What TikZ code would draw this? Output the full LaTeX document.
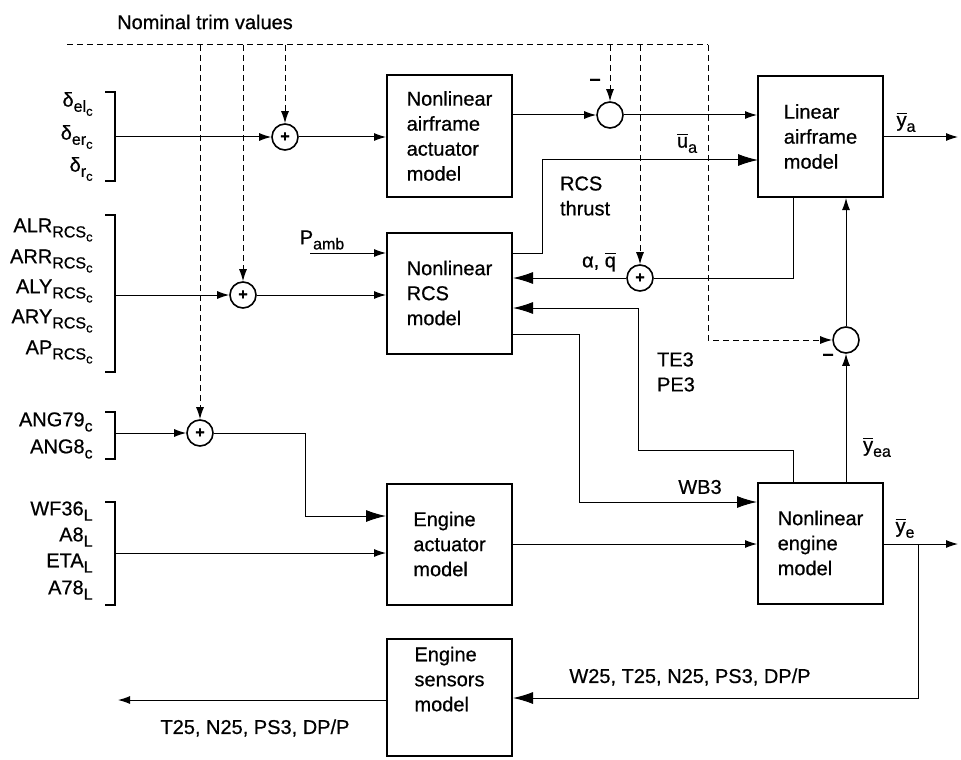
\documentclass[tikz,border=0pt]{standalone}
\usepackage{fontspec}
\setmainfont[FakeBold=0.6]{Liberation Sans}
\usetikzlibrary{arrows.meta,calc}
\newcommand{\vbar}[1]{$\overline{\mbox{#1}}$}
\newcommand{\lowsub}[1]{\raisebox{-2.6pt}{\fontsize{8}{8}\selectfont #1}}
\newcommand{\lowsubb}[1]{\raisebox{-2pt}{\fontsize{6.5}{6.5}\selectfont #1}}

\begin{document}
\begin{tikzpicture}[
  x=0.5pt, y=-0.5pt,
  font=\fontsize{10}{12.5}\selectfont,
  block/.style={draw, line width=1pt, align=left, minimum width=62.5pt, minimum height=60.5pt, inner sep=0pt},
  sumnode/.style={draw, circle, line width=0.8pt, minimum size=13pt, inner sep=0pt, font=\fontsize{8}{8}\selectfont\bfseries},
  sig/.style={-{Latex[length=6pt,width=4pt]}, line width=0.5pt},
  bigsig/.style={-{Latex[length=10pt,width=6pt]}, line width=0.5pt},
  plain/.style={line width=0.5pt},
  trimline/.style={densely dashed, line width=0.5pt},
  bracket/.style={line width=0.8pt},
  lbl/.style={anchor=east, inner sep=0pt}
]
\useasboundingbox (0,0) rectangle (961,759);

% blocks
\node[block] (act) at (449.5,136) {Nonlinear\\airframe\\actuator\\model};
\node[block] (lin) at (820.5,136.5) {Linear\\airframe\\model};
\node[block] (rcs) at (449.5,293) {Nonlinear\\RCS\\model};
\node[block] (eact) at (449.5,544) {Engine\\actuator\\model};
\node[block] (eng) at (820.5,543) {Nonlinear\\engine\\model};
\node[block, minimum height=58.5pt] (sens) at (449.5,697.5) {Engine\\sensors\\model\\[6pt]\mbox{}};

% summing junctions
\node[sumnode] (s1) at (285,137) {+};
\node[sumnode] (s2) at (243,295) {+};
\node[sumnode] (s3) at (200,433) {+};
\node[sumnode] (s4) at (640,278) {+};
\node[sumnode] (d1) at (610,115) {};
\node[sumnode] (d2) at (846,340) {};

% input brackets
\draw[bracket] (105,92) -- (115,92) -- (115,181) -- (105,181);
\draw[bracket] (105,215) -- (115,215) -- (115,372) -- (105,372);
\draw[bracket] (105,412) -- (115,412) -- (115,459) -- (105,459);
\draw[bracket] (105,502) -- (115,502) -- (115,605) -- (105,605);

\node[lbl] (del) at (93,104) {δ\lowsub{el\lowsubb{c}}};
\node[lbl] (der) at (93,137) {δ\lowsub{er\lowsubb{c}}};
\node[lbl] (dr) at (93,169) {δ\lowsub{r\lowsubb{c}}};
\node[lbl] (alr) at (93,230) {ALR\lowsub{RCS\lowsubb{c}}};
\node[lbl] (arr) at (93,261) {ARR\lowsub{RCS\lowsubb{c}}};
\node[lbl] (aly) at (93,291) {ALY\lowsub{RCS\lowsubb{c}}};
\node[lbl] (ary) at (93,321) {ARY\lowsub{RCS\lowsubb{c}}};
\node[lbl] (ap) at (93,352) {AP\lowsub{RCS\lowsubb{c}}};
\node[lbl] (ang79) at (93,422) {ANG79\lowsub{c}};
\node[lbl] (ang8) at (93,449) {ANG8\lowsub{c}};
\node[lbl] (wf36) at (93,511) {WF36\lowsub{L}};
\node[lbl] (a8) at (93,537) {A8\lowsub{L}};
\node[lbl] (eta) at (93,563) {ETA\lowsub{L}};
\node[lbl] (a78) at (93,590) {A78\lowsub{L}};

\coordinate (bd) at (115,137);
\coordinate (rc) at (115,295);
\coordinate (ag) at (115,433);
\coordinate (wf) at (115,553);
\coordinate (pa) at (310,253);
\coordinate (ua) at (758,160);
\coordinate (ya) at (958,137);
\coordinate (ye) at (958,544);
\coordinate (yb) at (918,544);
\coordinate (tout) at (118,700);

% nominal trim values
\node (trim) at (205,22) {Nominal trim values};
\coordinate (t0) at (67,45);
\coordinate (tr) at (708,45);
\draw[trimline] (t0) -- (tr);
\draw[trimline, sig] (tr) |- (d2);
\draw[trimline, sig] (s3 |- t0) -- (s3);
\draw[trimline, sig] (s2 |- t0) -- (s2);
\draw[trimline, sig] (s1 |- t0) -- (s1);
\draw[trimline, sig] (d1 |- t0) -- (d1);
\draw[trimline, sig] (s4 |- t0) -- (s4);

% airframe path
\draw[sig] (bd) -- (s1);
\draw[sig] (s1) -- (s1 -| act.west);
\draw[sig] (act.east |- d1) -- (d1);
\draw[sig] (d1) -- (d1 -| lin.west);
\draw[sig] (lin.east |- ya) -- (ya);
\draw[plain] ($(lin.south)+(-27.5,0)$) |- (s4);
\draw[sig] (d2) -- (d2 |- lin.south);

% RCS path
\draw[sig] (rc) -- (s2);
\draw[sig] (s2) -- (s2 -| rcs.west);
\draw[sig] (pa) -- (pa -| rcs.west);
\draw[bigsig] (rcs.east |- pa) -- ++(29,0) |- (ua);
\draw[bigsig] (s4) -- (s4 -| rcs.east);
\draw[bigsig] ($(eng.north)+(-27.5,0)$) -- ++(0,-31) -| (638,308) -- (rcs.east |- 638,308);
\draw[bigsig] (rcs.east |- 0,334) -- ++(66,0) |- (eng.west |- 0,502);

% engine path
\draw[sig] (ag) -- (s3);
\draw[bigsig] (s3) -| (305,516) -- (eact.west |- 305,516);
\draw[sig] (wf) -- (wf -| eact.west);
\draw[sig] (eact) -- (eact -| eng.west);
\draw[sig] (eng.east |- ye) -- (ye);
\draw[sig] (eng.north -| d2) -- (d2);
\draw[bigsig] (yb) |- (sens.east |- 0,698);
\draw[sig] (sens.west |- tout) -- (tout);

% signal labels
\node (m1) at (595,82) {\textbf{--}};
\node (m2) at (828,357) {\textbf{--}};
\node (pamb) at (322,240) {P\lowsub{amb}};
\node (ualbl) at (687,143) {\vbar{u}\lowsub{a}};
\node (yalbl) at (906,122) {\vbar{y}\lowsub{a}};
\node[align=left, anchor=west] (thr) at (553,196) {RCS\\thrust};
\node (aq) at (599,262) {α, \vbar{q}};
\node[align=left, anchor=west] (tepe) at (650,372) {TE3\\PE3};
\node (yealbl) at (877,447) {\vbar{y}\lowsub{ea}};
\node (wb3) at (700,487) {WB3};
\node (yelbl) at (905,528) {\vbar{y}\lowsub{e}};
\node (meas) at (690,677) {W25, T25, N25, PS3, DP/P};
\node (sout) at (255,728) {T25, N25, PS3, DP/P};
\end{tikzpicture}
\end{document}
